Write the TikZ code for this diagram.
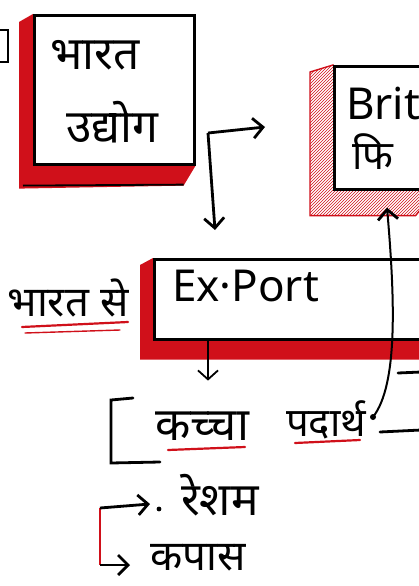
\documentclass[tikz,border=0pt]{standalone}
\usepackage{fontspec}
\setmainfont[Script=Devanagari]{Noto Sans}
\usetikzlibrary{patterns,arrows.meta,calc,backgrounds}
\definecolor{mred}{HTML}{D0101A}
\newcommand{\fsz}[1]{\fontsize{#1}{#1}\selectfont}
\tikzset{
  frontbox/.style={draw=black,line width=2.6pt,fill=white,inner sep=0pt,anchor=north west},
  arr/.style={line width=2.8pt,-{Straight Barb[length=10pt,width=20pt,line width=2.8pt]}},
  thinarr/.style={line width=1.6pt,-{Straight Barb[length=9pt,width=20pt,line width=1.8pt]}},
  bigtxt/.style={inner sep=0pt},
  redul/.style={mred,line width=2.2pt,line cap=round},
  ink/.style={line width=2.8pt,line cap=round}
}
\begin{document}
\begin{tikzpicture}[x=1pt,y=-1pt]
\useasboundingbox (0,0) rectangle (419,586);
% boxes
\node[frontbox,minimum width=160pt,minimum height=149pt] (b1) at (33,14) {};
\node[frontbox,minimum width=100pt,minimum height=123pt] (b2) at (333,65) {};
\node[frontbox,minimum width=290pt,minimum height=80pt] (b3) at (153,258) {};
\begin{scope}[on background layer]
  \fill[mred] (b1.north west) -- ++(-14,8) -- ($(b1.south west)+(-14,23)$) -- ($(b1.south east)+(-12,20)$) -- (b1.south east) -- cycle;
  \draw[line width=1.8pt] ($(b1.south west)+(-10,20)$) -- ($(b1.south east)+(-12,19)$);
  \draw[mred,line width=1.4pt,pattern=north east lines,pattern color=mred] (b2.north west) -- ++(-23,7) -- ($(b2.south west)+(-23,25)$) -- ($(b2.south east)+(-20,25)$) -- (b2.south east) -- cycle;
  \fill[mred] (b3.north west) -- ++(-13,7) -- ($(b3.south west)+(-13,19)$) -- ($(b3.south east)+(-13,19)$) -- (b3.south east) -- cycle;
\end{scope}
% left-edge fragment
\draw[line width=2.4pt] (-2,30) -- (8,30) -- (8,62) -- (-2,62);
% texts in boxes
\node[bigtxt,font=\fsz{46}] (t1a) at (95,55) {भारत};
\node[bigtxt,font=\fsz{46}] (t1b) at (112,122) {उद्योग};
\node[bigtxt,anchor=west,font=\fsz{44}] (t2a) at (346,104) {Brit};
\node[bigtxt,anchor=west,font=\fsz{40}] (t2b) at (352,152) {फि};
\node[bigtxt,anchor=west,font=\fsz{44}] (t3) at (172,286) {Ex·Port};
\node[bigtxt,font=\fsz{42}] (t4) at (68,298) {भारत से};
\draw[redul] (22,327) -- (128,322);
\draw[redul,line width=1.4pt] (25,333) -- (120,330);
% corner arrow
\coordinate (c1) at (208,133);
\coordinate (c1r) at (265,127);
\coordinate (c1d) at (215,230);
\draw[arr] (c1) -- (c1r);
\draw[arr] (c1) -- (c1d);
% export down arrow
\coordinate (e1) at ($(b3.south west)+(55,0)$);
\coordinate (e2) at ($(b3.south west)+(55,40)$);
\draw[thinarr] (e1) -- (e2);
% raw material
\draw[ink] (133,398) -- (111,400) -- (111,463) -- (160,462);
\node[bigtxt,font=\fsz{46}] (t5) at (202,426) {कच्चा};
\node[bigtxt,font=\fsz{40}] (t6) at (326,420) {पदार्थ};
\draw[redul] (168,450) -- (245,447);
\draw[redul] (295,443) -- (360,440);
\draw[ink] (398,373) -- (421,372);
\draw[ink] (380,432) -- (421,430);
\coordinate (pd) at (373,417);
\coordinate (b2in) at ($(b2.south west)+(54,17)$);
\fill (pd) circle (3);
\draw[arr,line width=2pt] (pd) .. controls (398,385) and (395,300) .. (b2in);
% silk / cotton
\coordinate (r1) at (100,508);
\coordinate (r2) at (100,565);
\draw[mred,line width=2.6pt] (r1) -- (r2);
\node[bigtxt,font=\fsz{46}] (t7) at (220,495) {रेशम};
\node[bigtxt,font=\fsz{42}\bfseries] (t8) at (198,558) {कपास};
\coordinate (a1) at (150,504);
\coordinate (a2) at (130,565);
\draw[arr] (r1) -- (a1);
\draw[arr] (r2) -- (a2);
\fill (159,509) circle (2.4);
\end{tikzpicture}
\end{document}
